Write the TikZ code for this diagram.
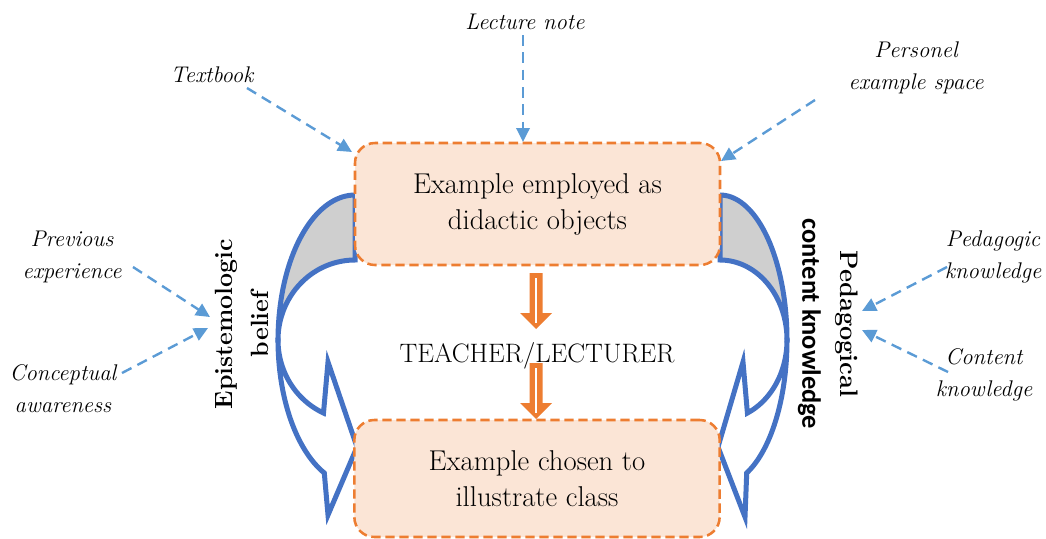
\documentclass[tikz,border=0pt]{standalone}
\usepackage{fontspec}
\newfontfamily\carlito{Carlito}
\usetikzlibrary{arrows.meta}
\definecolor{ablue}{HTML}{4472C4}
\definecolor{dblue}{HTML}{5B9BD5}
\definecolor{orng}{HTML}{ED7D31}
\definecolor{peach}{HTML}{FBE5D6}
\definecolor{bandgray}{HTML}{CFCFCF}
\begin{document}
\begin{tikzpicture}[x=0.75pt,y=-0.75pt,
  lab/.style={font=\fontsize{17}{24}\selectfont\itshape, align=center, inner sep=2pt},
  boxstyle/.style={draw=orng, fill=peach, dash pattern=on 7pt off 3.5pt, line width=1.9pt,
    rounded corners=15pt, align=center, font=\fontsize{21.5}{27}\selectfont},
  dasharrow/.style={draw=dblue, line width=1.8pt, dash pattern=on 8pt off 5pt,
    -{Triangle[length=10.5pt,width=10pt]}},
  curved/.style={draw=ablue, line width=3.75pt, line join=miter},
  orarrow/.style={fill=orng},
  stripe/.style={draw=white, line width=1.1pt}]
\useasboundingbox (0,0) rectangle (1046,539);

% left curved arrow
\draw[curved, fill=bandgray]
  plot[domain=270:180,samples=40,variable=\t] ({355+77*cos(\t)},{340+145*sin(\t)})
  -- plot[domain=180:270,samples=40,variable=\t] ({355+77*cos(\t)},{340+80*sin(\t)}) -- cycle;
\draw[curved, fill=white]
  plot[domain=180:113.5,samples=40,variable=\t] ({355+77*cos(\t)},{340+145*sin(\t)})
  -- (328,515) -- (357,447) -- (328,362)
  -- plot[domain=114.15:180,samples=40,variable=\t] ({355+77*cos(\t)},{340+80*sin(\t)}) -- cycle;

% right curved arrow
\draw[curved, fill=bandgray]
  plot[domain=270:180,samples=40,variable=\t] ({720-67*cos(\t)},{340+145*sin(\t)})
  -- plot[domain=180:270,samples=40,variable=\t] ({720-67*cos(\t)},{340+80*sin(\t)}) -- cycle;
\draw[curved, fill=white]
  plot[domain=180:113.5,samples=40,variable=\t] ({720-67*cos(\t)},{340+145*sin(\t)})
  -- (745,517) -- (718,447) -- (743,362)
  -- plot[domain=114.15:180,samples=40,variable=\t] ({720-67*cos(\t)},{340+80*sin(\t)}) -- cycle;

% boxes
\node[boxstyle, minimum width=273.75pt, minimum height=91.5pt] (box1) at (537.5,204)
  {Example employed as\\didactic objects};
\node[boxstyle, minimum width=274pt, minimum height=87.75pt] (box2) at (537,478.5)
  {Example chosen to\\illustrate class};
\node[font=\fontsize{20}{24}\selectfont] (teacher) at (537,356) {TEACHER/LECTURER};

% orange arrows
\coordinate (oa1) at (536,273);
\coordinate (oa2) at (536,363);
\foreach \c in {oa1,oa2}{
  \begin{scope}[shift={(\c)}]
    \fill[orarrow] (-6.5,0) -- (6.5,0) -- (6.5,40) -- (16,40) -- (0,56) -- (-16,40) -- (-6.5,40) -- cycle;
    \draw[stripe] (0,5) -- (0,50);
  \end{scope}
}

% labels
\node[lab] (lecture) at (525,22) {Lecture note};
\node[lab] (textbook) at (212,75) {Textbook};
\node[lab] (personel) at (916,68) {Personel\\example space};
\node[lab] (prev) at (72,257) {Previous\\experience};
\node[lab] (concept) at (63,389) {Conceptual\\awareness};
\node[lab] (pedk) at (993,257) {Pedagogic\\knowledge};
\node[lab] (contk) at (984,375) {Content\\knowledge};

\node[font=\fontsize{18.7}{27}\selectfont\bfseries, align=center, rotate=90] (epi) at (242,324)
  {Epistemologic\\belief};
\node[font=\fontsize{19}{28.5}\selectfont, align=center, rotate=-90] (pck) at (828,324)
  {\bfseries Pedagogical\\{\carlito\bfseries\fontsize{19.8}{28.5}\selectfont content knowledge}};

% connector end points
\coordinate (t1) at (523,35);  \coordinate (h1) at (523,142);
\coordinate (t2) at (247,88);  \coordinate (h2) at (352,152);
\coordinate (t3) at (815,100); \coordinate (h3) at (721,161);
\coordinate (t4) at (133,267); \coordinate (h4) at (210,317);
\coordinate (t5) at (122,373); \coordinate (h5) at (208,328);
\coordinate (t6) at (947,267); \coordinate (h6) at (862,311);
\coordinate (t7) at (948,372); \coordinate (h7) at (862,330);
\foreach \i in {1,...,7}{\draw[dasharrow] (t\i) -- (h\i);}
\end{tikzpicture}
\end{document}
